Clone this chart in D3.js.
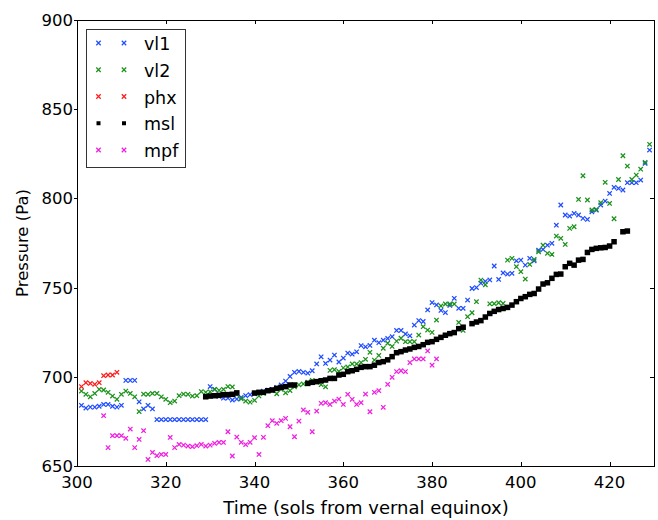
<!DOCTYPE html>
<html><head><meta charset="utf-8">
<script src="https://d3js.org/d3.v7.min.js"></script>
<style>
html,body{margin:0;padding:0;background:#fff;}
text{font-family:"DejaVu Sans",sans-serif;fill:#000;}
</style></head>
<body>
<svg id="chart" width="658" height="520"></svg>
<script>
// ---------------- data ----------------
const xTicks = [300, 320, 340, 360, 380, 400, 420];
const yTicks = [650, 700, 750, 800, 850, 900];
const xLabel = "Time (sols from vernal equinox)";
const yLabel = "Pressure (Pa)";

const seriesNames = ["vl1", "vl2", "phx", "msl", "mpf"];
const seriesColors = ["#1f4dff", "#1a921a", "#ff1a1a", "#000000", "#f01ee0"];
const seriesMarkers = ["x", "x", "x", "s", "x"];

const vl1Start = 301;
const vl1 = [684,682.5,683,683,683.5,684.5,684.5,683.5,683,684,
  698,698,698,686,682,684,682,
  676,676,676,676,676,676,676,676,676,676,676,676,
  694.5,693,689,688,688,687,687.5,688.5,689.5,690,690.5,691.3,692,692.5,693,694,
  695.4,697.6,700.2,702.5,703,702.5,702,703.4,707.2,711.2,707.5,709.4,712.2,708.3,710.5,713.3,712.7,714,717.5,716.8,
  717.6,720.5,719.1,720.5,721.5,722.5,726,726,724,723,729,731.5,731,737.5,741.6,740.3,737.2,736,740,744,
  738.4,738.4,743,749.5,750,752.5,753.5,754.3,762.1,754.6,758.2,757.6,758,765,765.4,762.6,766.4,765,771,771.4,
  773.8,774.8,785,796.3,790.7,790.1,791.6,790.7,788.8,788.2,792.5,793.4,796.3,798.5,802.8,806.2,805.6,804.7,808.8,808.8,
  808.8,810.3,819.6,827.1];

const vl2Start = 301;
const vl2 = [692,690.2,688.8,690.7,693,692.6,691.3,689.2,687.4,690.2,692,690.7,688.8,680.5,690.3,690.2,690.7,690.7,688.8,687.4,
  685.5,686.4,689.4,690.3,690.2,689.2,689.4,691.7,691.3,691.6,693,692.4,693,694.5,694.3,690,687.7,686.4,685.8,686.8,
  689.3,690.7,692.4,692.2,690.5,693,691,692.3,694.4,695.5,696,697,698,697,695.6,694.4,703.6,704,703,705,
  705.5,707.2,707.2,708,709.8,713.7,709.4,712,716,718.8,717,720,721.6,719.7,719.7,719.7,723.4,728.1,726.2,724.9,
  731.8,739.7,740.8,740.8,740.8,730.5,726,733.7,735.9,742.1,754.2,751.6,740.9,741,741.5,741.1,765.4,766.4,761.7,758.9,
  754.8,763,765.8,770.1,773.8,769.2,768.6,778.9,777.6,774.2,783.2,784.1,799.4,812.7,799.1,793.5,793.8,797.6,809,797.2,
  788.6,810.6,823.9,818.1,810.6,813.1,816.4,820.2,830.3];

const phxStart = 301;
const phx = [694.5,696.7,696.3,695.8,696.7,700.6,701,701,702.5];

const mslDays = [329,330,331,332,333,334,335,336,
  340,341,342,343,344,345,346,347,348,349,
  352,353,354,355,356,357,358,359,360,361,362,363,364,365,366,367,368,369,370,371,372,373,374,375,376,377,378,379,380,381,382,383,384,385,386,387,
  389,390,391,392,393,394,395,396,397,398,399,400,401,402,403,404,405,406,407,408,409,410,411,412,413,414,415,416,417,418,419,420,421,
  423,424];
const msl = [688.8,689.2,689.4,689.6,690,690,690.2,691,
  690.9,691.3,691.3,692.2,692.6,693.5,694.1,694.5,695.4,695.4,
  696.3,696.9,697.3,697.8,698.2,699.1,699.1,701,701.4,702.9,703.4,704.2,705.3,705.7,705.7,706.5,708,708.5,709.5,711.3,713.5,714.1,715,715.6,716.5,717,718,719.3,719.7,721,722.1,723.3,724.2,724.8,727,727.8,
  729.8,730.7,731.5,733.5,735.5,736.7,737.7,738.3,738.9,740.2,742.1,743.9,744.9,746.2,746.7,749.2,752,752.7,755.2,757.4,757.6,761.7,763.6,762.6,765.4,765.8,769.7,771.4,772,772.3,772.5,773.3,775.7,
  781.3,781.7];

const mpfStart = 306;
const mpf = [678.2,660.3,667,667,667,665.5,670.7,660.3,664.9,669.8,653.7,657.6,655.8,656.5,656.5,666,660.3,662.1,661.7,661.2,
  660.8,661.4,662.1,661.2,661.7,662.7,663.2,663.2,669.2,655.6,666.2,663.3,662,663.3,665.9,656.5,666.1,672.6,675.4,673.9,
  675.4,676.7,672,666.4,675.2,681.4,680.1,669.2,680.8,685.1,685.5,684.5,686.4,687.5,684.5,690.2,687.4,684.5,685.5,690.3,
  680.4,691.3,692.2,682.9,695.8,699.7,702.9,703.4,702.9,708,710,710,710,714.5,706.5,710];

// ---------------- build ----------------
const seq = (start, vals) => vals.map((v, i) => ({x: start + i, y: v}));
const seriesData = [
  seq(vl1Start, vl1),
  seq(vl2Start, vl2),
  seq(phxStart, phx),
  mslDays.map((d, i) => ({x: d, y: msl[i]})),
  seq(mpfStart, mpf)
];

const svg = d3.select("#chart");
const L = 77, R = 654, T = 20, B = 466;
const x = d3.scaleLinear().domain([300, 430]).range([L, R]);
const y = d3.scaleLinear().domain([650, 900]).range([B, T]);

const arm = 2.2;
function drawMarker(g, type, color, cx, cy, sq) {
  if (type === "x") {
    g.append("path")
      .attr("d", `M${cx-arm},${cy-arm}L${cx+arm},${cy+arm}M${cx-arm},${cy+arm}L${cx+arm},${cy-arm}`)
      .attr("stroke", color).attr("stroke-width", 1.25).attr("fill", "none");
  } else {
    g.append("rect").attr("x", cx - sq/2).attr("y", cy - sq/2)
      .attr("width", sq).attr("height", sq).attr("fill", color);
  }
}

// data points
const plot = svg.append("g");
seriesData.forEach((data, si) => {
  const g = plot.append("g").attr("class", "series-" + seriesNames[si]);
  data.forEach(d => drawMarker(g, seriesMarkers[si], seriesColors[si], x(d.x), y(d.y), 5.5));
});

// frame
svg.append("rect").attr("x", L + 0.5).attr("y", T + 0.5)
  .attr("width", R - L).attr("height", B - T)
  .attr("fill", "none").attr("stroke", "#000").attr("stroke-width", 1)
  .attr("shape-rendering", "crispEdges");

// axes (ticks inside on bottom/top/right, outside on left)
const ax = svg.append("g").attr("shape-rendering", "crispEdges");
xTicks.forEach(t => {
  const px = Math.round(x(t)) + 0.5;
  ax.append("line").attr("x1", px).attr("x2", px).attr("y1", B).attr("y2", B - 4).attr("stroke", "#000");
  ax.append("line").attr("x1", px).attr("x2", px).attr("y1", T).attr("y2", T + 4).attr("stroke", "#000");
  svg.append("text").attr("x", x(t)).attr("y", 488).attr("text-anchor", "middle")
    .attr("font-size", "16.5px").text(t);
});
yTicks.forEach(t => {
  const py = Math.round(y(t)) + 0.5;
  ax.append("line").attr("x1", L - 3).attr("x2", L).attr("y1", py).attr("y2", py).attr("stroke", "#000");
  ax.append("line").attr("x1", R).attr("x2", R - 4).attr("y1", py).attr("y2", py).attr("stroke", "#000");
  svg.append("text").attr("x", 73).attr("y", y(t)).attr("dy", "0.36em").attr("text-anchor", "end")
    .attr("font-size", "16.5px").text(t);
});

// axis labels
svg.append("text").attr("x", 366).attr("y", 514).attr("text-anchor", "middle")
  .attr("font-size", "18px").text(xLabel);
svg.append("text").attr("transform", `translate(28,${(T + B) / 2}) rotate(-90)`)
  .attr("text-anchor", "middle").attr("font-size", "16.5px").text(yLabel);

// legend
const lg = svg.append("g");
lg.append("rect").attr("x", 86.5).attr("y", 29.5).attr("width", 99).attr("height", 138)
  .attr("fill", "#fff").attr("stroke", "#333").attr("stroke-width", 1);
seriesNames.forEach((name, i) => {
  const ly = 43 + i * 26.75;
  drawMarker(lg, seriesMarkers[i], seriesColors[i], 98.5, ly, 4);
  drawMarker(lg, seriesMarkers[i], seriesColors[i], 124, ly, 4);
  lg.append("text").attr("x", 144).attr("y", ly + 7).attr("font-size", "17.5px").text(name);
});
</script>
</body></html>
